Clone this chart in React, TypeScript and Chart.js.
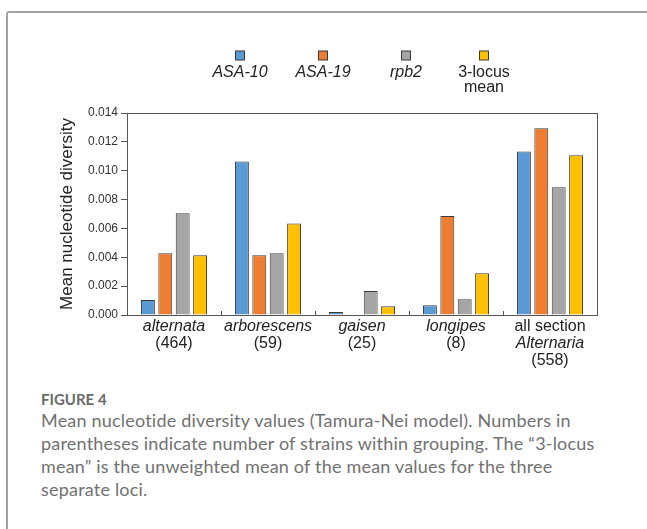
import React, { useEffect, useRef } from "react";
import { Chart, registerables } from "chart.js";

Chart.register(...registerables);

// Groupings (x axis); each label line is [text, italic]
const groupLabels: [string, boolean][][] = [
  [["alternata", true], ["(464)", false]],
  [["arborescens", true], ["(59)", false]],
  [["gaisen", true], ["(25)", false]],
  [["longipes", true], ["(8)", false]],
  [["all section", false], ["Alternaria", true], ["(558)", false]],
];
const groups = ["alternata", "arborescens", "gaisen", "longipes", "all section Alternaria"];

// Mean nucleotide diversity per locus
const asa10 = [0.00104, 0.01063, 0.00021, 0.00067, 0.01134];
const asa19 = [0.00428, 0.00414, 0.0, 0.00686, 0.01294];
const rpb2 = [0.00705, 0.00428, 0.00166, 0.00109, 0.00885];
const locusMean = [0.00414, 0.00635, 0.0006, 0.00289, 0.01107];

// Legend entries: lines of text and whether they are italic
const seriesLabels: [string, boolean][][] = [
  [["ASA-10", true]],
  [["ASA-19", true]],
  [["rpb2", true]],
  [["3-locus", false], ["mean", false]],
];
const seriesColors = ["#5B9BD5", "#ED7D31", "#A5A5A5", "#FFC000"];

const yTicks = [0, 0.002, 0.004, 0.006, 0.008, 0.01, 0.012, 0.014];
const yTitle = "Mean nucleotide diversity";

const FONT = "'Liberation Sans', Arial, sans-serif";
const AXIS = "#555555";
const TEXT = "#222222";
const BAR_EDGE = "#3a3a3a";
const LEGEND_X = [240, 323, 406, 484];

const decorations = {
  id: "decorations",
  afterDraw(chart: any) {
    const { ctx, chartArea: a, scales } = chart;
    const xs = scales.x;
    ctx.save();

    // plot frame
    ctx.strokeStyle = AXIS;
    ctx.lineWidth = 1;
    ctx.strokeRect(a.left + 0.5, a.top + 0.5, a.right - a.left, a.bottom - a.top);

    // short inward ticks between groupings
    ctx.beginPath();
    for (let i = 1; i < groups.length; i++) {
      const bx = Math.round((xs.getPixelForValue(i - 1) + xs.getPixelForValue(i)) / 2) + 0.5;
      ctx.moveTo(bx, a.bottom);
      ctx.lineTo(bx, a.bottom - 4);
    }
    ctx.stroke();

    // grouping labels
    ctx.fillStyle = TEXT;
    ctx.textAlign = "center";
    ctx.textBaseline = "alphabetic";
    groupLabels.forEach((lines, i) => {
      const cx = xs.getPixelForValue(i);
      lines.forEach(([txt, it], j) => {
        ctx.font = `${it ? "italic " : ""}16px ${FONT}`;
        ctx.fillText(txt, cx, a.bottom + 16 + j * 17);
      });
    });

    // legend: swatch above label
    seriesLabels.forEach((lines, i) => {
      const cx = LEGEND_X[i];
      ctx.fillStyle = seriesColors[i];
      ctx.fillRect(cx - 4.5, 51, 9, 9);
      ctx.strokeStyle = BAR_EDGE;
      ctx.strokeRect(cx - 4.5, 51, 9, 9);
      ctx.fillStyle = TEXT;
      lines.forEach(([txt, it], j) => {
        ctx.font = `${it ? "italic " : ""}16px ${FONT}`;
        ctx.fillText(txt, cx, 77 + j * 15);
      });
    });
    ctx.restore();
  },
};

function DiversityChart() {
  const ref = useRef<HTMLCanvasElement>(null);
  useEffect(() => {
    if (!ref.current) return;
    const series = [asa10, asa19, rpb2, locusMean];
    const chart = new Chart(ref.current, {
      type: "bar",
      data: {
        labels: groups,
        datasets: series.map((d, i) => ({
          label: seriesLabels[i].map((l) => l[0]).join(" "),
          data: d,
          backgroundColor: seriesColors[i],
          borderColor: BAR_EDGE,
          borderWidth: 1,
          categoryPercentage: 0.74,
          barPercentage: 0.8,
        })),
      },
      options: {
        responsive: false,
        animation: false,
        devicePixelRatio: 1,
        layout: { padding: { left: 0, right: 50, top: 113, bottom: 0 } },
        plugins: { legend: { display: false }, tooltip: { enabled: false } },
        scales: {
          x: {
            grid: { display: false },
            border: { display: false },
            ticks: { display: false },
            afterFit: (s: any) => {
              s.height = 65;
            },
          },
          y: {
            min: 0,
            max: 0.014,
            afterBuildTicks: (s: any) => {
              s.ticks = yTicks.map((v) => ({ value: v }));
            },
            ticks: {
              callback: (v: any) => Number(v).toFixed(3),
              font: { size: 12, family: FONT },
              color: "#333333",
              padding: 3,
            },
            grid: { drawOnChartArea: false, tickLength: 6, color: AXIS },
            border: { display: false },
            title: {
              display: true,
              text: yTitle,
              font: { size: 17, family: FONT },
              color: TEXT,
              padding: { top: 57, bottom: 0 },
            },
            afterFit: (s: any) => {
              s.width = 127;
            },
          },
        },
      },
      plugins: [decorations],
    });
    return () => chart.destroy();
  }, []);
  return (
    <canvas
      ref={ref}
      width={647}
      height={380}
      style={{ position: "absolute", left: 0, top: 0, width: 647, height: 380 }}
    />
  );
}

export default function App() {
  return (
    <div
      style={{
        position: "fixed",
        left: 0,
        top: 0,
        width: 647,
        height: 529,
        background: "#ffffff",
        overflow: "hidden",
      }}
    >
      <div
        style={{
          position: "absolute",
          left: 6,
          top: 11,
          width: 700,
          height: 600,
          border: "2px solid #a3a3a3",
          borderRadius: 3,
        }}
      />
      <DiversityChart />
      <div
        style={{
          position: "absolute",
          left: 41,
          top: 390,
          fontFamily: "Lato, 'Open Sans', sans-serif",
          color: "#6a6a6a",
        }}
      >
        <div style={{ fontSize: 15, fontWeight: 700, lineHeight: "18px" }}>FIGURE 4</div>
        <div
          style={{
            fontSize: 18,
            lineHeight: "23px",
            letterSpacing: "0.2px",
            whiteSpace: "nowrap",
            color: "#717171",
            marginTop: 1,
          }}
        >
          Mean nucleotide diversity values (Tamura-Nei model). Numbers in
          <br />
          parentheses indicate number of strains within grouping. The “3-locus
          <br />
          mean” is the unweighted mean of the mean values for the three
          <br />
          separate loci.
        </div>
      </div>
    </div>
  );
}
